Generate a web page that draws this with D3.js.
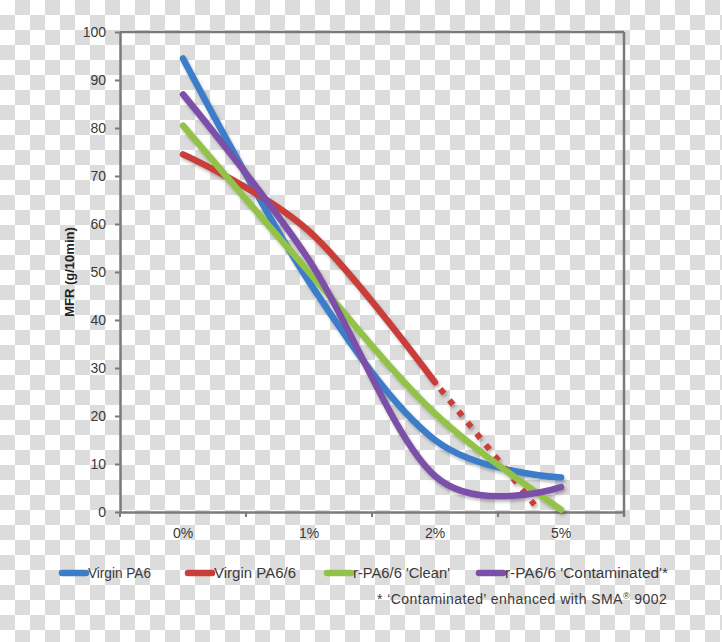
<!DOCTYPE html>
<html><head><meta charset="utf-8">
<script src="https://cdn.jsdelivr.net/npm/d3@7"></script>
<style>html,body{margin:0;padding:0;background:#fff}svg{display:block}</style>
</head><body><svg id="c" width="722" height="642"></svg>
<script>
// ---- data ----
const categories = ["0%", "1%", "2%", "5%"];
const yTicks = [0, 10, 20, 30, 40, 50, 60, 70, 80, 90, 100];
const virginPA6 = [94.5, 48, 15, 7.2];
const virginPA66 = [74.5, 58.5, 27];
const virginPA66Projection = [27, 1.5];      // dotted: from 2% toward 5%
const projectionReach = 0.79;                // fraction of the way from 2% to 5%
const rPA66Clean = [80.5, 50, 20.5, 0.5];
const rPA66Contaminated = [87, 52.5, 7.5, 5.2];
const seriesNames = ["Virgin PA6", "Virgin PA6/6", "r-PA6/6 'Clean'", "r-PA6/6 'Contaminated'*"];
const seriesColors = ["#3b7dc9", "#c93d3a", "#93c24a", "#7b50a8"];
const yTitle = "MFR (g/10min)";
const footnoteMain = "* ‘Contaminated’ enhanced with SMA";
const footnoteSup = "®";
const footnoteEnd = " 9002";

// ---- layout ----
const W = 722, H = 642;
const L = 120, R = 624, T = 32, B = 512;
const svg = d3.select("#c");
const font = "'Liberation Sans', Arial, sans-serif";
const axisColor = "#7a7a7a";
const textColor = "#3a3a3a";

// checkerboard background
const defs = svg.append("defs");
const pat = defs.append("pattern").attr("id", "chk").attr("width", 30).attr("height", 30)
  .attr("patternUnits", "userSpaceOnUse");
pat.append("rect").attr("width", 30).attr("height", 30).attr("fill", "#ffffff");
pat.append("rect").attr("x", 15).attr("y", 0).attr("width", 15).attr("height", 15).attr("fill", "#dcdcdc");
pat.append("rect").attr("x", 0).attr("y", 15).attr("width", 15).attr("height", 15).attr("fill", "#dcdcdc");
svg.append("rect").attr("width", W).attr("height", H).attr("fill", "url(#chk)");

const flt = defs.append("filter").attr("id", "sh").attr("x", "-10%").attr("y", "-10%").attr("width", "120%").attr("height", "120%");
flt.append("feDropShadow").attr("dx", 1.5).attr("dy", 2.5).attr("stdDeviation", 1.6)
  .attr("flood-color", "#000").attr("flood-opacity", 0.28);

// scales
const x = d3.scaleBand().domain(categories).range([L, R]).paddingInner(0).paddingOuter(0);
const xc = c => x(c) + x.bandwidth() / 2;
const y = d3.scaleLinear().domain([0, 100]).range([B, T]);

// plot frame (top & right)
svg.append("line").attr("x1", L).attr("x2", R).attr("y1", T).attr("y2", T)
  .attr("stroke", axisColor).attr("stroke-width", 2.5);
svg.append("line").attr("x1", R).attr("x2", R).attr("y1", T).attr("y2", B + 5)
  .attr("stroke", axisColor).attr("stroke-width", 2.5);

// y axis
const yAxis = svg.append("g").attr("transform", `translate(${L},0)`)
  .call(d3.axisLeft(y).tickValues(yTicks).tickSize(5).tickSizeOuter(0).tickPadding(9));
yAxis.select(".domain").attr("stroke", axisColor).attr("stroke-width", 2.5);
yAxis.selectAll(".tick line").attr("stroke", axisColor).attr("stroke-width", 2);
yAxis.selectAll(".tick text").attr("font-family", font).attr("font-size", 14).attr("fill", textColor);

// x axis (labels at centres, ticks at band boundaries)
const xAxis = svg.append("g").attr("transform", `translate(0,${B})`)
  .call(d3.axisBottom(x).tickSize(0).tickSizeOuter(0).tickPadding(16));
xAxis.select(".domain").attr("stroke", axisColor).attr("stroke-width", 2.5);
xAxis.selectAll(".tick text").attr("font-family", font).attr("font-size", 14).attr("fill", textColor);
const bounds = categories.map(c => x(c)).concat([x.range()[1]]);
svg.append("g").selectAll("line").data(bounds).join("line")
  .attr("x1", d => d).attr("x2", d => d).attr("y1", B).attr("y2", B + 5)
  .attr("stroke", axisColor).attr("stroke-width", 2);

// y title
svg.append("text").attr("transform", `translate(74,${(T + B) / 2}) rotate(-90)`)
  .attr("text-anchor", "middle").attr("font-family", font).attr("font-weight", "bold")
  .attr("font-size", 13).attr("fill", "#222").text(yTitle);

// series
const curve = d3.curveCardinal.tension(0);
const line = d3.line().x(d => d[0]).y(d => y(d[1])).curve(curve);
const allSeries = [virginPA6, virginPA66, rPA66Clean, rPA66Contaminated];
const g = svg.append("g").attr("filter", "url(#sh)");
allSeries.forEach((vals, i) => {
  const pts = vals.map((v, j) => [xc(categories[j]), v]);
  g.append("path").attr("d", line(pts)).attr("fill", "none")
    .attr("stroke", seriesColors[i]).attr("stroke-width", 6.5)
    .attr("stroke-linecap", "round").attr("stroke-linejoin", "round");
  if (i === 1) {
    const x0 = xc(categories[2]), x1 = x0 + projectionReach * (xc(categories[3]) - x0);
    g.append("path").attr("d", d3.line().x(d => d[0]).y(d => y(d[1]))([[x0, virginPA66Projection[0]], [x1, virginPA66Projection[1]]]))
      .attr("fill", "none").attr("stroke", seriesColors[1]).attr("stroke-width", 6)
      .attr("stroke-dasharray", "6 8.4").attr("stroke-dashoffset", 6);
  }
});

// legend
const legendX = [60, 186, 325, 477];
const legendW = [63, 82, 97, 163];
const legendY = 573;
const lg = svg.append("g");
seriesNames.forEach((n, i) => {
  lg.append("line").attr("x1", legendX[i] + 2).attr("x2", legendX[i] + 26)
    .attr("y1", legendY).attr("y2", legendY).attr("stroke", seriesColors[i])
    .attr("stroke-width", 6.5).attr("stroke-linecap", "round");
  lg.append("text").attr("x", legendX[i] + 28).attr("y", legendY + 5)
    .attr("font-family", font).attr("font-size", 14).attr("fill", textColor)
    .attr("textLength", legendW[i]).attr("lengthAdjust", "spacingAndGlyphs").text(n);
});
const fn = svg.append("text").attr("x", 377).attr("y", 604)
  .attr("font-family", font).attr("font-size", 14).attr("fill", textColor)
  .attr("letter-spacing", 0.45);
fn.append("tspan").text(footnoteMain);
fn.append("tspan").attr("font-size", 9).attr("dy", -5).text(footnoteSup);
fn.append("tspan").attr("dy", 5).text(footnoteEnd);
</script></body></html>
